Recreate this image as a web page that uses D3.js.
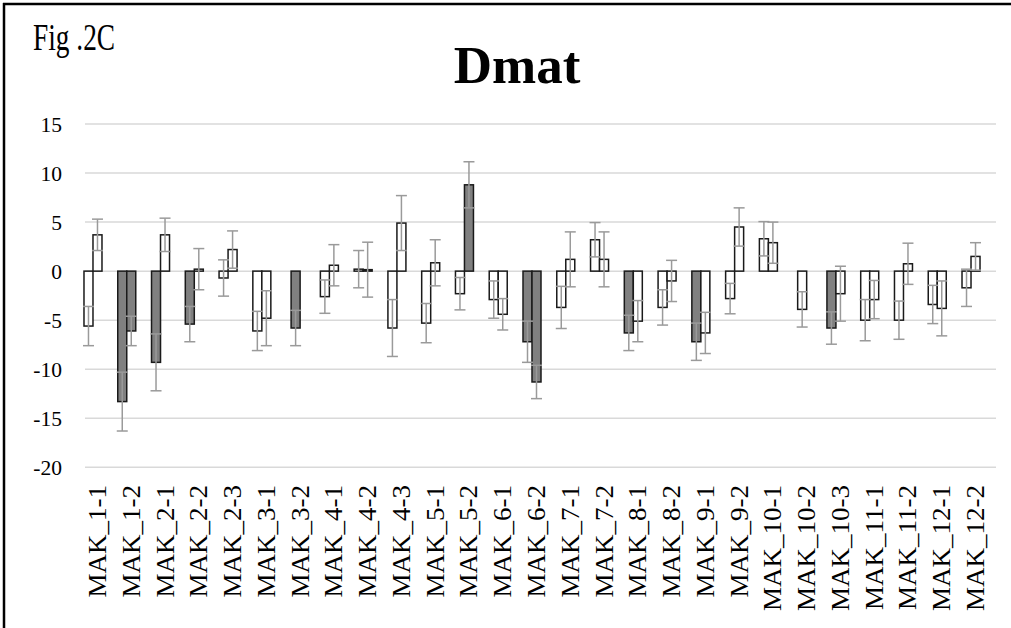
<!DOCTYPE html>
<html>
<head>
<meta charset="utf-8">
<script src="https://cdn.jsdelivr.net/npm/d3@7"></script>
<style>
  html, body { margin: 0; padding: 0; background: #fff; }
  svg { display: block; }
</style>
</head>
<body>
<script>
const categories = ["MAK_1-1","MAK_1-2","MAK_2-1","MAK_2-2","MAK_2-3","MAK_3-1","MAK_3-2","MAK_4-1","MAK_4-2","MAK_4-3","MAK_5-1","MAK_5-2","MAK_6-1","MAK_6-2","MAK_7-1","MAK_7-2","MAK_8-1","MAK_8-2","MAK_9-1","MAK_9-2","MAK_10-1","MAK_10-2","MAK_10-3","MAK_11-1","MAK_11-2","MAK_12-1","MAK_12-2"];
const seriesA = [-5.6,-13.3,-9.3,-5.4,-0.7,-6.1,-5.8,-2.6,0.2,-5.8,-5.3,-2.3,-2.9,-7.2,-3.7,3.2,-6.3,-3.7,-7.2,-2.8,3.3,-3.9,-5.8,-5.0,-5.0,-3.4,-1.7];
const errorA  = [2.0,3.0,2.9,1.8,1.85,2.0,1.8,1.7,1.9,2.9,2.0,1.65,1.9,2.1,2.15,1.75,1.8,1.8,1.9,1.55,1.75,1.8,1.65,2.1,1.95,1.95,1.9];
const signifA = [0,1,1,1,0,0,1,0,0,0,0,0,0,1,0,0,1,0,1,0,0,0,1,0,0,0,0];
const seriesB = [3.7,-6.1,3.7,0.2,2.2,-4.8,null,0.6,0.15,4.9,0.85,8.8,-4.4,-11.3,1.2,1.2,-5.1,-1.0,-6.3,4.5,2.9,null,-2.3,-2.9,0.75,-3.8,1.5];
const errorB  = [1.6,1.5,1.7,2.1,1.9,2.8,null,2.1,2.8,2.8,2.35,2.35,1.6,1.7,2.8,2.8,2.1,2.1,2.1,1.95,2.1,null,2.8,1.95,2.1,2.8,1.4];
const signifB = [0,1,0,0,0,0,0,0,0,0,0,1,0,1,0,0,0,0,0,0,0,0,0,0,0,0,0];
const yTicks = [15,10,5,0,-5,-10,-15,-20];
const chartTitle = "Dmat";
const figLabel = "Fig .2C";

const W = 1011, H = 628;
const serif = "'Liberation Serif', 'Times New Roman', serif";
const svg = d3.select("body").append("svg").attr("width", W).attr("height", H);
svg.append("rect").attr("width", W).attr("height", H).attr("fill", "#fff");

// frame
svg.append("line").attr("x1", 3).attr("x2", W).attr("y1", 4).attr("y2", 4).attr("stroke", "#000").attr("stroke-width", 2.5);
svg.append("line").attr("x1", 4).attr("x2", 4).attr("y1", 3).attr("y2", H).attr("stroke", "#000").attr("stroke-width", 2.5);

const y = d3.scaleLinear().domain([-20, 15]).range([467.3, 124]);
const x = d3.scaleBand().domain(categories).range([76.1, 987.9]).padding(0);
const barW = 9;
const gridX0 = 85, gridX1 = 996;

// gridlines
svg.append("g").selectAll("line").data(yTicks).join("line")
  .attr("x1", gridX0).attr("x2", gridX1)
  .attr("y1", d => y(d)).attr("y2", d => y(d))
  .attr("stroke", "#d9d9d9").attr("stroke-width", 1.5);

// y axis labels
const yAxis = d3.axisLeft(y).tickValues(yTicks).tickSize(0).tickPadding(0)
  .tickFormat(d => String(d));
const yg = svg.append("g").attr("transform", "translate(62,0)").call(yAxis)
  .attr("font-family", serif);
yg.select(".domain").remove();
yg.selectAll("text").attr("font-family", serif)
  .attr("font-size", 21.5).attr("fill", "#000").attr("dy", "0.35em").attr("x", 0);

// build bar records
const bars = [];
categories.forEach((c, i) => {
  const cx = x(c) + x.bandwidth() / 2;
  const hasB = seriesB[i] !== null;
  if (hasB) {
    bars.push({ c, v: seriesA[i], e: errorA[i], s: signifA[i], x0: cx - barW });
    bars.push({ c, v: seriesB[i], e: errorB[i], s: signifB[i], x0: cx });
  } else {
    bars.push({ c, v: seriesA[i], e: errorA[i], s: signifA[i], x0: cx - barW / 2 });
  }
});

const gb = svg.append("g");
gb.selectAll("rect").data(bars).join("rect")
  .attr("x", d => d.x0)
  .attr("width", barW)
  .attr("y", d => Math.min(y(d.v), y(0)))
  .attr("height", d => Math.max(Math.abs(y(d.v) - y(0)), 0.8))
  .attr("fill", d => d.s ? "#808080" : "#ffffff")
  .attr("stroke", "#1a1a1a")
  .attr("stroke-width", 1.5);

// error bars
const ge = svg.append("g").attr("stroke", "#9a9a9a").attr("stroke-width", 1.5);
const capW = 11;
bars.forEach(d => {
  const cx = d.x0 + barW / 2;
  ge.append("line").attr("x1", cx).attr("x2", cx).attr("y1", y(d.v + d.e)).attr("y2", y(d.v - d.e));
  ge.append("line").attr("x1", cx - capW / 2).attr("x2", cx + capW / 2).attr("y1", y(d.v + d.e)).attr("y2", y(d.v + d.e));
  ge.append("line").attr("x1", cx - capW / 2).attr("x2", cx + capW / 2).attr("y1", y(d.v - d.e)).attr("y2", y(d.v - d.e));
});

// x labels
const xAxis = d3.axisBottom(x).tickSize(0).tickPadding(0);
const xg = svg.append("g").attr("transform", "translate(0,485)").call(xAxis)
  .attr("font-family", serif);
xg.select(".domain").remove();
xg.selectAll("text")
  .attr("font-family", serif)
  .attr("font-size", 27).attr("fill", "#000")
  .attr("text-anchor", "end")
  .attr("transform", "translate(4,0) rotate(-90) scale(1,0.95)")
  .attr("x", 0).attr("y", 0).attr("dy", "0.35em");

// titles
svg.append("text").attr("x", 517).attr("y", 83).attr("text-anchor", "middle")
  .attr("font-family", serif)
  .attr("font-weight", "bold").attr("font-size", 53).attr("fill", "#000").text(chartTitle);
svg.append("text").attr("transform", "translate(33,50) scale(0.74,1)")
  .attr("font-family", serif)
  .attr("font-size", 37).attr("fill", "#000").text(figLabel);
</script>
</body>
</html>
